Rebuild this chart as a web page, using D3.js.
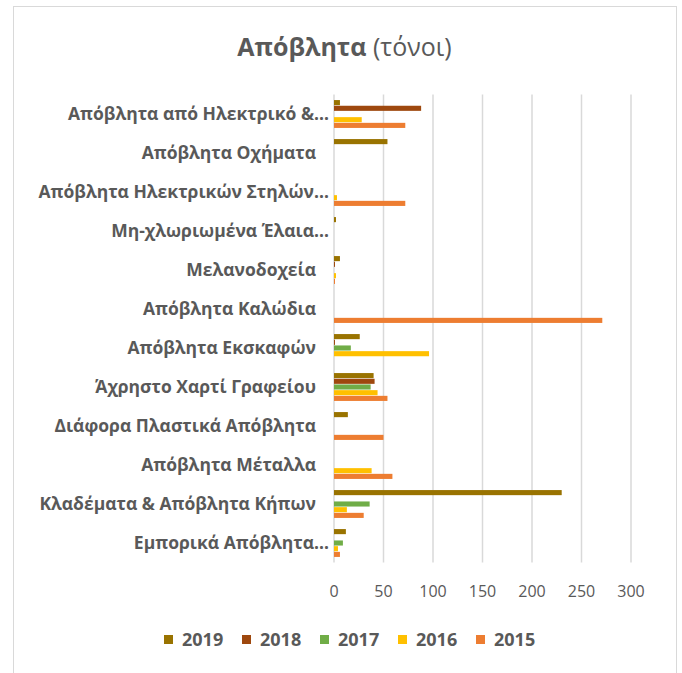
<!DOCTYPE html>
<html>
<head>
<meta charset="utf-8">
<script src="https://cdn.jsdelivr.net/npm/d3@7"></script>
<style>
  body { margin: 0; background: #fff; }
  text { font-family: "Open Sans", "DejaVu Sans", sans-serif; fill: #595959; }
</style>
</head>
<body>
<div id="chart"></div>
<script>
// categories, bottom to top as in the source workbook
var categories = [
  'Εμπορικά Απόβλητα…',
  'Κλαδέματα & Απόβλητα Κήπων',
  'Απόβλητα Μέταλλα',
  'Διάφορα Πλαστικά Απόβλητα',
  'Άχρηστο Χαρτί Γραφείου',
  'Απόβλητα Εκσκαφών',
  'Απόβλητα Καλώδια',
  'Μελανοδοχεία',
  'Μη-χλωριωμένα Έλαια…',
  'Απόβλητα Ηλεκτρικών Στηλών…',
  'Απόβλητα Οχήματα',
  'Απόβλητα από Ηλεκτρικό &…'
];

var years = ['2019', '2018', '2017', '2016', '2015'];

var v2019 = [12, 230, 0, 14, 40, 26, 0, 6, 2, 0, 54, 6];
var v2018 = [0, 0, 0, 0, 41, 1, 0, 1, 0, 0, 0, 88];
var v2017 = [9, 36, 0, 0, 37, 17, 0, 0, 0, 0, 0, 0];
var v2016 = [4, 13, 38, 0, 44, 96, 0, 2, 0, 3, 0, 28];
var v2015 = [6, 30, 59, 50, 54, 0, 271, 1, 0, 72, 0, 72];

var xTicks = [0, 50, 100, 150, 200, 250, 300];

var colors = ['#997300', '#9e480e', '#70ad47', '#ffc000', '#ed7d31'];

var series = [v2019, v2018, v2017, v2016, v2015];

var width = 682;
var height = 673;

var svg = d3.select('#chart')
  .append('svg')
  .attr('width', width)
  .attr('height', height);

// chart border
svg.append('rect')
  .attr('x', 13.5)
  .attr('y', 6.5)
  .attr('width', 663)
  .attr('height', 680)
  .attr('fill', 'none')
  .attr('stroke', '#d9d9d9')
  .attr('stroke-width', 1);

var x = d3.scaleLinear()
  .domain([0, 300])
  .range([334, 631]);

// top category first on screen
var y = d3.scaleBand()
  .domain(categories.slice().reverse())
  .range([94.5, 562.5])
  .paddingInner(0.27)
  .paddingOuter(0.135);

var yInner = d3.scaleBand()
  .domain(years)
  .range([0, y.bandwidth()]);

// gridlines
svg.append('g')
  .selectAll('line')
  .data(xTicks)
  .enter()
  .append('line')
  .attr('x1', function(d) { return x(d); })
  .attr('x2', function(d) { return x(d); })
  .attr('y1', 94.5)
  .attr('y2', 562.5)
  .attr('stroke', '#d9d9d9')
  .attr('stroke-width', 1.5);

// bars
var groups = svg.append('g')
  .selectAll('g')
  .data(categories)
  .enter()
  .append('g')
  .attr('transform', function(d) { return 'translate(0,' + y(d) + ')'; });

groups.selectAll('rect')
  .data(function(d, i) {
    return years.map(function(yr, j) {
      return { year: yr, value: series[j][i], color: colors[j] };
    });
  })
  .enter()
  .append('rect')
  .attr('x', x(0))
  .attr('y', function(d) { return yInner(d.year) + 0.3; })
  .attr('height', yInner.bandwidth() - 0.6)
  .attr('width', function(d) { return x(d.value) - x(0); })
  .attr('fill', function(d) { return d.color; });

// category labels (truncated ones run up to the axis)
svg.append('g')
  .selectAll('text')
  .data(categories)
  .enter()
  .append('text')
  .attr('x', function(d) { return d.slice(-1) === '…' ? 329 : 316; })
  .attr('y', function(d) { return y(d) + y.bandwidth() / 2; })
  .attr('dy', '0.35em')
  .attr('text-anchor', 'end')
  .attr('font-size', '17.5px')
  .attr('font-weight', 'bold')
  .text(function(d) { return d; });

// x axis tick labels
svg.append('g')
  .selectAll('text')
  .data(xTicks)
  .enter()
  .append('text')
  .attr('x', function(d) { return x(d); })
  .attr('y', 591)
  .attr('dy', '0.35em')
  .attr('text-anchor', 'middle')
  .attr('font-size', '16px')
  .text(function(d) { return d; });

// title
var title = svg.append('text')
  .attr('x', 344.5)
  .attr('y', 47)
  .attr('dy', '0.35em')
  .attr('text-anchor', 'middle')
  .attr('font-size', '25px');
title.append('tspan').attr('font-weight', 'bold').text('Απόβλητα');
title.append('tspan').text(' (τόνοι)');

// legend
var legend = svg.append('g')
  .selectAll('g')
  .data(years)
  .enter()
  .append('g')
  .attr('transform', function(d, i) { return 'translate(' + (164 + i * 78) + ',635)'; });

legend.append('rect')
  .attr('width', 9)
  .attr('height', 9)
  .attr('fill', function(d, i) { return colors[i]; });

legend.append('text')
  .attr('x', 18)
  .attr('y', 5)
  .attr('dy', '0.35em')
  .attr('font-size', '18px')
  .attr('font-weight', 'bold')
  .text(function(d) { return d; });
</script>
</body>
</html>
